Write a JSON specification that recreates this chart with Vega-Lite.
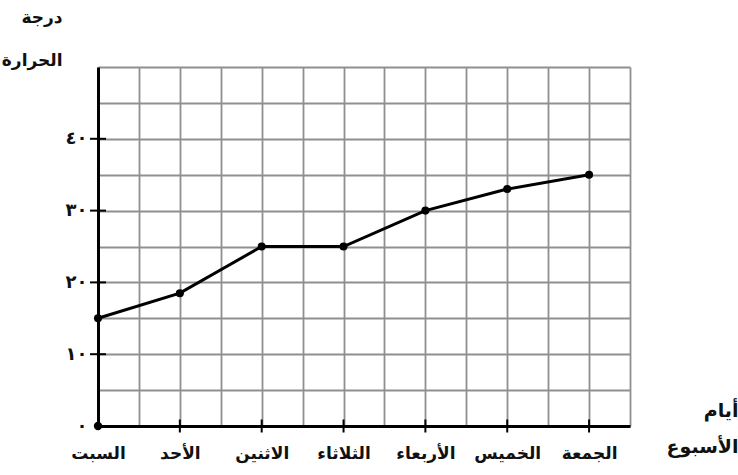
{
  "$schema": "https://vega.github.io/schema/vega-lite/v6.json",
  "width": 532,
  "height": 359,
  "autosize": "none",
  "padding": {"left": 98, "top": 67, "right": 108, "bottom": 49},
  "background": "white",
  "config": {"view": {"stroke": null}, "font": "DejaVu Sans"},
  "datasets": {
    "temps": [
      {"day": 0, "name": "السبت", "temp": 15},
      {"day": 1, "name": "الأحد", "temp": 18.5},
      {"day": 2, "name": "الاثنين", "temp": 25},
      {"day": 3, "name": "الثلاثاء", "temp": 25},
      {"day": 4, "name": "الأربعاء", "temp": 30},
      {"day": 5, "name": "الخميس", "temp": 33},
      {"day": 6, "name": "الجمعة", "temp": 35}
    ],
    "yticks": [
      {"day": 0, "temp": 10},
      {"day": 0, "temp": 20},
      {"day": 0, "temp": 30},
      {"day": 0, "temp": 40}
    ],
    "xticks": [
      {"day": 1, "temp": 0},
      {"day": 2, "temp": 0},
      {"day": 3, "temp": 0},
      {"day": 4, "temp": 0},
      {"day": 5, "temp": 0},
      {"day": 6, "temp": 0}
    ],
    "origin": [{"day": 0, "temp": 0}]
  },
  "encoding": {
    "x": {
      "field": "day",
      "type": "quantitative",
      "scale": {"domain": [0, 6.5], "nice": false, "zero": false},
      "axis": {
        "values": [0, 0.5, 1, 1.5, 2, 2.5, 3, 3.5, 4, 4.5, 5, 5.5, 6, 6.5],
        "grid": true,
        "gridColor": "#8f8f8f",
        "gridWidth": 1.8,
        "gridOpacity": 1,
        "domain": true,
        "domainColor": "black",
        "domainWidth": 3,
        "ticks": false,
        "labelExpr": "datum.value % 1 == 0 ? ['السبت','الأحد','الاثنين','الثلاثاء','الأربعاء','الخميس','الجمعة'][datum.value] : ''",
        "labelFontSize": 17,
        "labelFontWeight": "bold",
        "labelColor": "#111111",
        "labelPadding": 19,
        "labelFlush": false,
        "labelOverlap": false,
        "title": ["أيام", "الأسبوع"],
        "titleAngle": 0,
        "titleX": 640,
        "titleY": -25,
        "titleAlign": "right",
        "titleBaseline": "top",
        "titleFontSize": 19,
        "titleFontWeight": "bold",
        "titleColor": "#111111",
        "titleLineHeight": 36
      }
    },
    "y": {
      "field": "temp",
      "type": "quantitative",
      "scale": {"domain": [0, 50], "nice": false},
      "axis": {
        "values": [0, 5, 10, 15, 20, 25, 30, 35, 40, 45, 50],
        "grid": true,
        "gridColor": "#8f8f8f",
        "gridWidth": 1.8,
        "gridOpacity": 1,
        "domain": true,
        "domainColor": "black",
        "domainWidth": 3,
        "ticks": false,
        "labelExpr": "datum.value == 0 ? '٠' : datum.value == 10 ? '١٠' : datum.value == 20 ? '٢٠' : datum.value == 30 ? '٣٠' : datum.value == 40 ? '٤٠' : ''",
        "labelFontSize": 18,
        "labelFontWeight": "bold",
        "labelColor": "#111111",
        "labelPadding": 11,
        "labelOverlap": false,
        "title": ["درجة", "الحرارة"],
        "titleAngle": 0,
        "titleX": -36,
        "titleY": -58,
        "titleAlign": "right",
        "titleBaseline": "top",
        "titleFontSize": 17,
        "titleFontWeight": "bold",
        "titleColor": "#111111",
        "titleLineHeight": 43
      }
    }
  },
  "layer": [
    {
      "data": {"name": "temps"},
      "mark": {"type": "line", "color": "black", "strokeWidth": 3}
    },
    {
      "data": {"name": "temps"},
      "mark": {"type": "point", "filled": true, "color": "black", "size": 65, "opacity": 1}
    },
    {
      "data": {"name": "yticks"},
      "mark": {"type": "tick", "orient": "horizontal", "color": "black", "size": 16, "thickness": 2, "opacity": 1}
    },
    {
      "data": {"name": "xticks"},
      "mark": {"type": "tick", "orient": "vertical", "color": "black", "size": 13, "thickness": 2, "opacity": 1}
    },
    {
      "data": {"name": "origin"},
      "mark": {"type": "point", "filled": true, "color": "black", "size": 70, "opacity": 1}
    }
  ]
}
